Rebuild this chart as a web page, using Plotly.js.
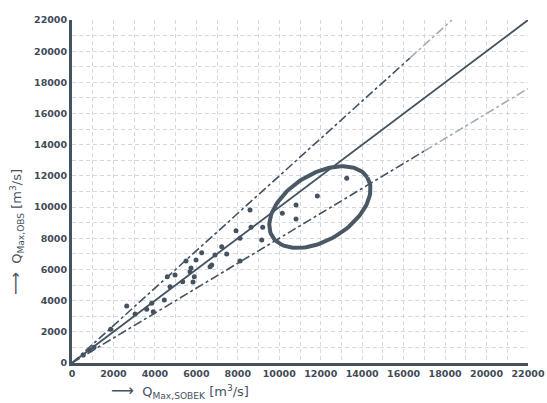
<!DOCTYPE html>
<html>
<head>
<meta charset="utf-8">
<script src="https://cdn.plot.ly/plotly-3.0.1.min.js"></script>
<style>html,body{margin:0;padding:0;background:#fff}#chart{width:547px;height:403px}</style>
</head>
<body>
<div id="chart"></div>
<script>
// Observed vs SOBEK peak discharges [m3/s]
const qSobek = [545, 869, 1062, 1867, 2639, 3040, 3604, 3846, 3923, 4453, 4598, 4729, 4970, 5341, 5501, 5694, 5742, 5838, 5901, 5983, 6258, 6659, 6741, 6900, 7223, 7464, 7913, 8106, 8106, 8589, 8637, 9153, 9201, 10147, 10808, 10808, 11836, 13254];
const qObs   = [513, 834, 1007, 2161, 3656, 3143, 3444, 3829, 3290, 4041, 5535, 4894, 5644, 5207, 6542, 5856, 6093, 5195, 5535, 6606, 7075, 6177, 6286, 6927, 7459, 6991, 8486, 7998, 6542, 9813, 8704, 7889, 8704, 9602, 10134, 9236, 10711, 11847];
// reference lines: 1:1 and +/-20 %
const lineX = [0, 22000];
const upperFactor = 1.2;
const lowerFactor = 0.8;
const axisMax = 22000;
const tickVals = [0, 2000, 4000, 6000, 8000, 10000, 12000, 14000, 16000, 18000, 20000, 22000];
// highlighted group (ellipse): centre in data units
const ellipseCentre = [11960, 10000];

const W = 547, H = 403;
const M = {l: 72, r: 19, t: 20, b: 40};
const pw = W - M.l - M.r, ph = H - M.t - M.b;
const sx = axisMax / pw, sy = axisMax / ph;

const dark = '#45525f';
const traces = [];

// upper dash-dot line, dark then faded part
const upFade = 16300;
traces.push({x: [0, upFade], y: [0, upFade * upperFactor], mode: 'lines', line: {color: dark, width: 1.6, dash: 'dashdot'}, hoverinfo: 'skip'});
traces.push({x: [upFade, axisMax / upperFactor], y: [upFade * upperFactor, axisMax], mode: 'lines', line: {color: '#a3abb3', width: 1.6, dash: 'dashdot'}, hoverinfo: 'skip'});
// lower dash-dot line
const loFade = 17000;
traces.push({x: [0, loFade], y: [0, loFade * lowerFactor], mode: 'lines', line: {color: dark, width: 1.6, dash: 'dashdot'}, hoverinfo: 'skip'});
traces.push({x: [loFade, axisMax], y: [loFade * lowerFactor, axisMax * lowerFactor], mode: 'lines', line: {color: '#a3abb3', width: 1.6, dash: 'dashdot'}, hoverinfo: 'skip'});
// 1:1 line
traces.push({x: lineX, y: lineX, mode: 'lines', line: {color: dark, width: 1.8}, hoverinfo: 'skip'});
// points
traces.push({x: qSobek, y: qObs, mode: 'markers', marker: {color: dark, size: 5}});

// ellipse (drawn in screen proportions)
const a = 56, b = 33, th = 32 * Math.PI / 180;
const ex = [], ey = [];
for (let i = 0; i <= 120; i++) {
  const t = 2 * Math.PI * i / 120;
  const u = a * Math.cos(t) * Math.cos(th) - b * Math.sin(t) * Math.sin(th);
  const v = a * Math.cos(t) * Math.sin(th) + b * Math.sin(t) * Math.cos(th);
  ex.push(ellipseCentre[0] + u * sx);
  ey.push(ellipseCentre[1] + v * sy);
}
traces.push({x: ex, y: ey, mode: 'lines', line: {color: '#4a5866', width: 4}, hoverinfo: 'skip'});

const tickFont = {family: 'DejaVu Sans', size: 9.5, color: '#3f4b57', weight: 'bold'};
const gridCol = '#d3d9df';
const axisCommon = {
  range: [0, axisMax], tickvals: tickVals, ticktext: tickVals.map(String),
  showline: true, linewidth: 3, linecolor: dark, ticks: '', zeroline: false,
  showgrid: true, gridcolor: gridCol, griddash: '4px,3px', gridwidth: 1,
  minor: {dtick: 1000, tick0: 0, showgrid: true, gridcolor: gridCol, griddash: '4px,3px', gridwidth: 1},
  tickfont: tickFont, fixedrange: true
};

const arrow = '<span style="font-size:16px">⟶</span>';
const layout = {
  width: W, height: H, margin: M,
  paper_bgcolor: '#fff', plot_bgcolor: '#fff', showlegend: false,
  xaxis: Object.assign({}, axisCommon),
  yaxis: Object.assign({}, axisCommon),
  annotations: [
    {text: arrow + '  Q<sub>Max,SOBEK</sub> [m<sup>3</sup>/s]', xref: 'paper', yref: 'paper', x: (180 - M.l) / pw, y: -(391 - 363) / ph, xanchor: 'center', yanchor: 'middle', showarrow: false, font: {family: 'DejaVu Sans', size: 13, color: '#45525f'}},
    {text: arrow + '  Q<sub>Max,OBS</sub> [m<sup>3</sup>/s]', xref: 'paper', yref: 'paper', x: -(M.l - 16) / pw, y: (363 - 232) / ph, xanchor: 'center', yanchor: 'middle', textangle: -90, showarrow: false, font: {family: 'DejaVu Sans', size: 13, color: '#45525f'}}
  ]
};

Plotly.newPlot('chart', traces, layout, {staticPlot: true});
</script>
</body>
</html>
